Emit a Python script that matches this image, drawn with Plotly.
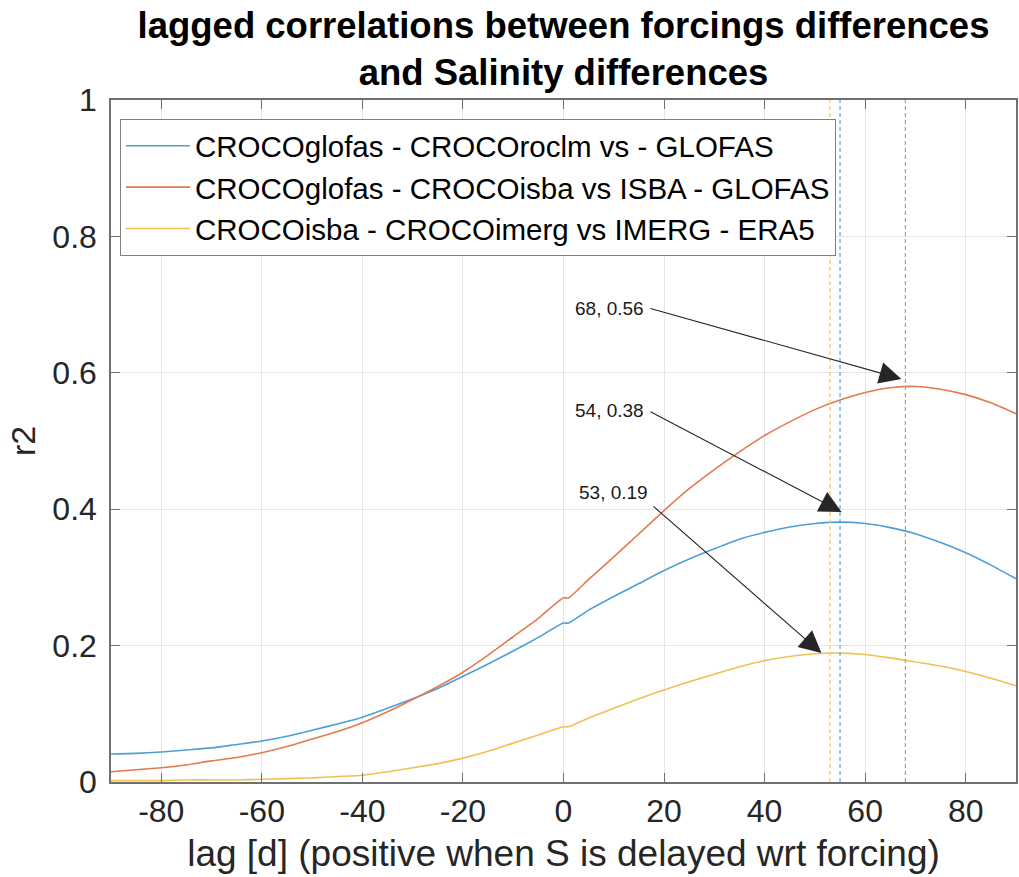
import plotly.graph_objects as go

# ---- data ----
lag = [-90, -85, -80, -75, -70, -65, -60, -55, -50, -45, -40, -35, -30, -25, -20, -15, -10, -5,
       0, 1, 5, 10, 15, 20, 25, 30, 35, 40, 45, 50, 55, 60, 65, 70, 75, 80, 85, 90]

r2_roclm = [0.041, 0.042, 0.044, 0.047, 0.050, 0.055, 0.060, 0.067, 0.076, 0.085, 0.095, 0.108,
            0.122, 0.137, 0.155, 0.173, 0.192, 0.212, 0.233, 0.233, 0.252, 0.272, 0.291, 0.310,
            0.327, 0.342, 0.356, 0.366, 0.374, 0.379, 0.381, 0.379, 0.373, 0.364, 0.351, 0.336,
            0.318, 0.298]
r2_isba = [0.015, 0.018, 0.021, 0.025, 0.031, 0.036, 0.043, 0.052, 0.063, 0.074, 0.087, 0.103,
           0.121, 0.140, 0.161, 0.186, 0.213, 0.240, 0.270, 0.270, 0.297, 0.330, 0.364, 0.398,
           0.430, 0.458, 0.484, 0.508, 0.528, 0.546, 0.560, 0.571, 0.578, 0.580, 0.576, 0.568,
           0.556, 0.540]
r2_imerg = [0.002, 0.002, 0.002, 0.003, 0.003, 0.003, 0.004, 0.005, 0.006, 0.008, 0.010, 0.015,
            0.021, 0.027, 0.035, 0.045, 0.057, 0.069, 0.081, 0.081, 0.094, 0.108, 0.122, 0.135,
            0.147, 0.158, 0.169, 0.178, 0.184, 0.188, 0.189, 0.187, 0.182, 0.176, 0.170, 0.162,
            0.152, 0.141]

series_names = [
    "CROCOglofas - CROCOroclm vs - GLOFAS",
    "CROCOglofas - CROCOisba vs ISBA - GLOFAS",
    "CROCOisba - CROCOimerg vs IMERG - ERA5",
]
peak_lags = [55, 68, 53]

x_ticks = [-80, -60, -40, -20, 0, 20, 40, 60, 80]
x_tick_labels = ["-80", "-60", "-40", "-20", "0", "20", "40", "60", "80"]
y_ticks = [0, 0.2, 0.4, 0.6, 0.8, 1]
y_tick_labels = ["0", "0.2", "0.4", "0.6", "0.8", "1"]

line_colors = ["#4d9fd9", "#e57a4e", "#efc152"]
dash_colors = ["#4fa7e3", "#f28a5e", "#f3c75a"]

FONT = "Liberation Sans, Arial, Helvetica, sans-serif"
AX = "#707070"

fig = go.Figure()

for vals, name, col in zip([r2_roclm, r2_isba, r2_imerg], series_names, line_colors):
    fig.add_trace(go.Scatter(x=lag, y=vals, mode="lines", name=name,
                             line=dict(color=col, width=1.6, shape="spline", smoothing=0.6)))

for pk, col in zip(peak_lags, dash_colors):
    fig.add_trace(go.Scatter(x=[pk, pk], y=[0, 1], mode="lines", showlegend=False,
                             hoverinfo="skip",
                             line=dict(color=col, width=1.2, dash="4px,3px")))

# annotations (text + arrows)
ann = []
arrow_specs = [
    # label, text pos (x, y), tail (x, y), tip (x, y)
    ("68, 0.56", (16.4, 0.695), (17.0, 0.695), (67.2, 0.591)),
    ("54, 0.38", (16.4, 0.544), (17.0, 0.544), (55.3, 0.396)),
    ("53, 0.19", (17.3, 0.425), (17.6, 0.406), (51.3, 0.189)),
]
for lab, tp, tail, tip in arrow_specs:
    ann.append(dict(x=tip[0], y=tip[1], ax=tail[0], ay=tail[1], xref="x", yref="y",
                    axref="x", ayref="y", text="", showarrow=True, arrowhead=2,
                    arrowsize=4, arrowwidth=1.1, arrowcolor="#262626"))
    ann.append(dict(x=tp[0], y=tp[1], xref="x", yref="y", text=lab, showarrow=False,
                    xanchor="right", yanchor="middle",
                    font=dict(family=FONT, size=19, color="#1a1a1a")))

fig.update_layout(
    width=1019, height=877,
    margin=dict(l=111, r=1, t=100, b=95),
    paper_bgcolor="white", plot_bgcolor="white",
    title=dict(text="<b>lagged correlations between forcings differences<br>and Salinity differences</b>",
               x=0.5, xref="paper", xanchor="center", y=0.957, yref="container", yanchor="middle",
               font=dict(family=FONT, size=36.5, color="black")),
    showlegend=True,
    legend=dict(x=0.0099, y=0.972, xanchor="left", yanchor="top",
                bgcolor="white", bordercolor="#7f7f7f", borderwidth=1,
                font=dict(family=FONT, size=29.5, color="black"),
                itemwidth=64, tracegroupgap=0),
    annotations=ann,
)

fig.update_xaxes(range=[-90, 90], tickvals=x_ticks, ticktext=x_tick_labels, ticks="inside",
                 ticklen=9, tickwidth=1.3,
                 tickcolor=AX, showline=True, linecolor=AX, linewidth=1.5, mirror="ticks",
                 showgrid=True, gridcolor="#e6e6e6", gridwidth=1, zeroline=False,
                 tickfont=dict(family=FONT, size=32, color="#262626"),
                 title=dict(text="lag [d] (positive when S is delayed wrt forcing)",
                            font=dict(family=FONT, size=37, color="#262626"), standoff=12))
fig.update_yaxes(range=[0, 1], tickvals=y_ticks, ticktext=y_tick_labels, ticks="inside",
                 ticklen=9, tickwidth=1.3, tickcolor=AX, showline=True, linecolor=AX,
                 linewidth=1.5, mirror="ticks", showgrid=True, gridcolor="#e6e6e6", gridwidth=1,
                 zeroline=False, tickfont=dict(family=FONT, size=32, color="#262626"),
                 ticklabelstandoff=6,
                 title=dict(text="r2", font=dict(family=FONT, size=34, color="#262626"), standoff=6))

fig.write_html("out.html")
